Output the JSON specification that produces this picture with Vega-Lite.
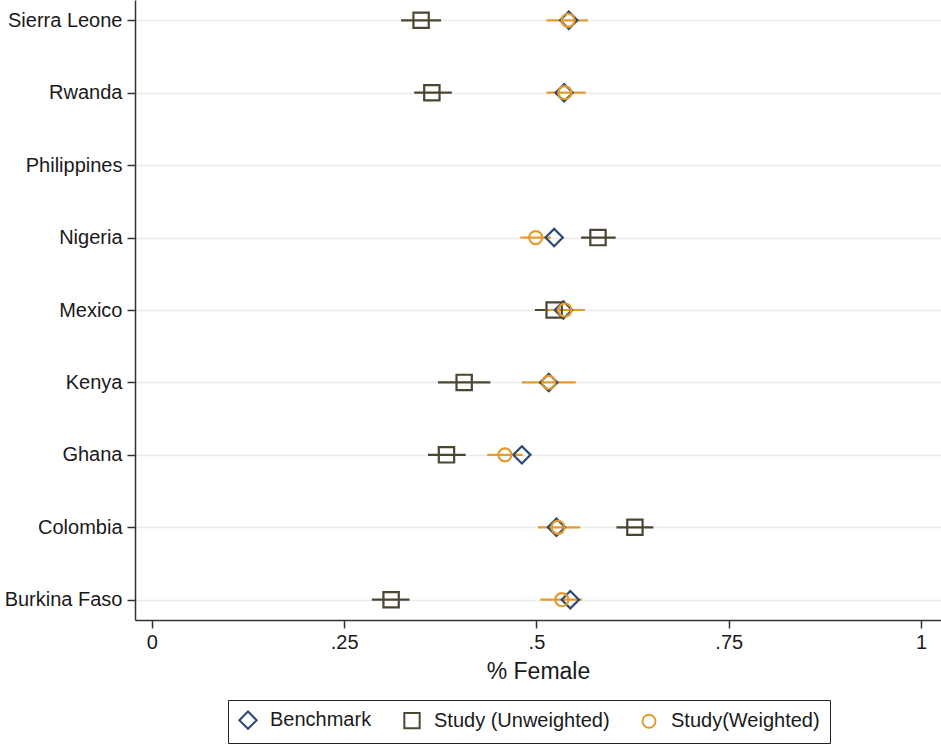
{
  "$schema": "https://vega.github.io/schema/vega-lite/v6.json",
  "width": 806,
  "height": 620,
  "autosize": "none",
  "padding": {"left": 135, "top": 0, "right": 0, "bottom": 132},
  "background": "white",
  "config": {
    "view": {"stroke": null},
    "font": "Liberation Sans"
  },
  "data": {
    "values": [
      {"country": "Sierra Leone", "type": "Benchmark", "value": 0.542},
      {"country": "Sierra Leone", "type": "Study (Unweighted)", "value": 0.350, "lo": 0.324, "hi": 0.376},
      {"country": "Sierra Leone", "type": "Study(Weighted)", "value": 0.541, "lo": 0.513, "hi": 0.567},
      {"country": "Rwanda", "type": "Benchmark", "value": 0.536},
      {"country": "Rwanda", "type": "Study (Unweighted)", "value": 0.364, "lo": 0.341, "hi": 0.390},
      {"country": "Rwanda", "type": "Study(Weighted)", "value": 0.537, "lo": 0.513, "hi": 0.564},
      {"country": "Nigeria", "type": "Benchmark", "value": 0.523},
      {"country": "Nigeria", "type": "Study (Unweighted)", "value": 0.580, "lo": 0.558, "hi": 0.603},
      {"country": "Nigeria", "type": "Study(Weighted)", "value": 0.499, "lo": 0.479, "hi": 0.519},
      {"country": "Mexico", "type": "Benchmark", "value": 0.535},
      {"country": "Mexico", "type": "Study (Unweighted)", "value": 0.523, "lo": 0.498, "hi": 0.548},
      {"country": "Mexico", "type": "Study(Weighted)", "value": 0.537, "lo": 0.511, "hi": 0.563},
      {"country": "Kenya", "type": "Benchmark", "value": 0.516},
      {"country": "Kenya", "type": "Study (Unweighted)", "value": 0.406, "lo": 0.372, "hi": 0.440},
      {"country": "Kenya", "type": "Study(Weighted)", "value": 0.516, "lo": 0.481, "hi": 0.551},
      {"country": "Ghana", "type": "Benchmark", "value": 0.481},
      {"country": "Ghana", "type": "Study (Unweighted)", "value": 0.383, "lo": 0.359, "hi": 0.408},
      {"country": "Ghana", "type": "Study(Weighted)", "value": 0.459, "lo": 0.436, "hi": 0.482},
      {"country": "Colombia", "type": "Benchmark", "value": 0.526},
      {"country": "Colombia", "type": "Study (Unweighted)", "value": 0.628, "lo": 0.604, "hi": 0.652},
      {"country": "Colombia", "type": "Study(Weighted)", "value": 0.528, "lo": 0.502, "hi": 0.557},
      {"country": "Burkina Faso", "type": "Benchmark", "value": 0.544},
      {"country": "Burkina Faso", "type": "Study (Unweighted)", "value": 0.311, "lo": 0.286, "hi": 0.335},
      {"country": "Burkina Faso", "type": "Study(Weighted)", "value": 0.533, "lo": 0.505, "hi": 0.559}
    ]
  },
  "encoding": {
    "y": {
      "field": "country",
      "type": "nominal",
      "scale": {
        "type": "point",
        "padding": 0.28,
        "domain": ["Sierra Leone", "Rwanda", "Philippines", "Nigeria", "Mexico", "Kenya", "Ghana", "Colombia", "Burkina Faso"]
      },
      "axis": {
        "title": null,
        "labelFontSize": 20,
        "labelColor": "#1a1a1a",
        "labelPadding": 5,
        "tickSize": 8,
        "tickColor": "#333333",
        "tickWidth": 1.5,
        "domainColor": "#333333",
        "domainWidth": 1.5,
        "grid": true,
        "gridColor": "#ebebeb",
        "gridWidth": 1.5
      }
    }
  },
  "layer": [
    {
      "transform": [{"filter": "isValid(datum.lo)"}],
      "mark": {"type": "rule", "strokeWidth": 2.2},
      "encoding": {
        "x": {
          "field": "lo",
          "type": "quantitative",
          "scale": {"domain": [-0.022, 1.026], "nice": false, "zero": false},
          "axis": {
            "title": "% Female",
            "titleFontSize": 23,
            "titleFontWeight": "normal",
            "titleColor": "#1a1a1a",
            "titlePadding": 8,
            "values": [0, 0.25, 0.5, 0.75, 1],
            "labelExpr": "replace(format(datum.value, '~g'), '0.', '.')",
            "labelFontSize": 20,
            "labelColor": "#1a1a1a",
            "labelPadding": 4,
            "tickSize": 8,
            "tickColor": "#333333",
            "tickWidth": 1.5,
            "domainColor": "#333333",
            "domainWidth": 1.5,
            "grid": false
          }
        },
        "x2": {"field": "hi"},
        "color": {
          "field": "type",
          "type": "nominal",
          "scale": {
            "domain": ["Benchmark", "Study (Unweighted)", "Study(Weighted)"],
            "range": ["#2b4a73", "#4b4632", "#e39b2e"]
          }
        }
      }
    },
    {
      "mark": {"type": "point", "filled": false, "strokeWidth": 2.2, "opacity": 1},
      "encoding": {
        "x": {"field": "value", "type": "quantitative"},
        "size": {
          "field": "type",
          "type": "nominal",
          "scale": {
            "domain": ["Benchmark", "Study (Unweighted)", "Study(Weighted)"],
            "range": [300, 170, 190]
          },
          "legend": null
        },
        "color": {
          "field": "type",
          "type": "nominal",
          "legend": {
            "title": null,
            "orient": "none",
            "legendX": 93,
            "legendY": 700,
            "direction": "horizontal",
            "strokeColor": "#222222",
            "padding": 10,
            "labelFontSize": 20,
            "labelColor": "#1a1a1a",
            "labelOffset": 12,
            "labelLimit": 400,
            "columnPadding": 28,
            "symbolSize": 170,
            "symbolStrokeWidth": 2,
            "symbolFillColor": "transparent"
          }
        },
        "shape": {
          "field": "type",
          "type": "nominal",
          "scale": {
            "domain": ["Benchmark", "Study (Unweighted)", "Study(Weighted)"],
            "range": ["diamond", "square", "circle"]
          },
          "legend": {
            "title": null,
            "orient": "none",
            "legendX": 93,
            "legendY": 700,
            "direction": "horizontal"
          }
        }
      }
    }
  ]
}
